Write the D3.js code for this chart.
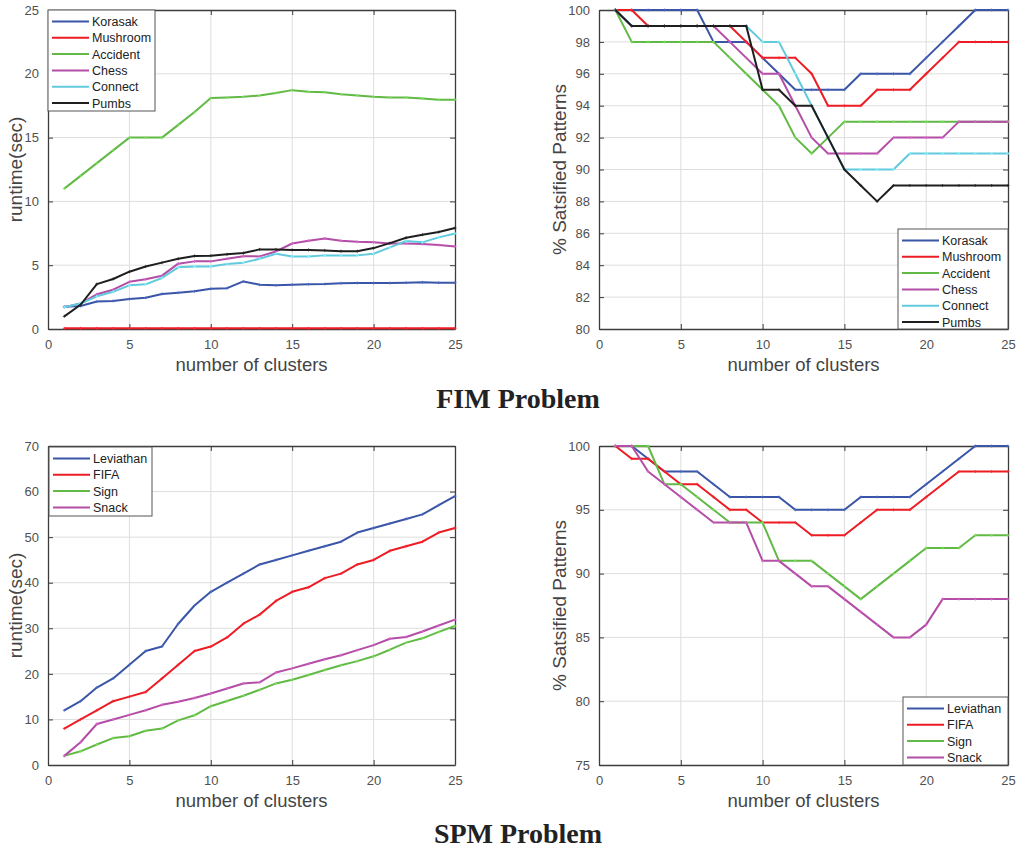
<!DOCTYPE html>
<html>
<head>
<meta charset="utf-8">
<script src="https://cdn.jsdelivr.net/npm/d3@7"></script>
<style>
  body { margin: 0; background: #fff; }
  svg { display: block; }
  .tick text { fill: #505050; font-family: "Liberation Sans", Arial, sans-serif; font-size: 13px; }
</style>
</head>
<body>
<div id="chart"></div>
<script>
// number of clusters (shared x values)
var clusters = d3.range(1, 26);

// FIM runtime (sec)
var fimRuntime = {
  "Korasak":  [1.75,1.8,2.15,2.2,2.35,2.45,2.75,2.85,2.95,3.15,3.2,3.73,3.47,3.42,3.47,3.5,3.52,3.58,3.6,3.6,3.6,3.63,3.66,3.63,3.63],
  "Mushroom": [0.05,0.05,0.05,0.05,0.05,0.05,0.05,0.05,0.05,0.05,0.05,0.05,0.05,0.05,0.05,0.05,0.05,0.05,0.05,0.05,0.05,0.05,0.05,0.05,0.05],
  "Accident": [11,12,13,14,15,15,15,16,17,18.1,18.15,18.2,18.3,18.5,18.72,18.6,18.55,18.4,18.3,18.2,18.15,18.15,18.07,17.97,17.97],
  "Chess":    [1.7,2.0,2.72,3.08,3.7,3.9,4.18,5.12,5.3,5.3,5.5,5.7,5.69,6.08,6.7,6.92,7.1,6.92,6.84,6.79,6.7,6.7,6.66,6.58,6.47],
  "Connect":  [1.7,2.0,2.56,2.92,3.42,3.5,4.0,4.83,4.9,4.9,5.1,5.2,5.5,5.9,5.69,5.69,5.77,5.77,5.77,5.9,6.4,6.9,6.79,7.18,7.49],
  "Pumbs":    [0.99,1.9,3.52,3.92,4.49,4.9,5.2,5.5,5.72,5.75,5.85,5.95,6.24,6.24,6.2,6.2,6.16,6.1,6.1,6.34,6.73,7.15,7.39,7.6,7.91]
};

// FIM % satisfied patterns
var fimSatisfied = {
  "Korasak":  [100,100,100,100,100,100,98,98,98,97,96,95,95,95,95,96,96,96,96,97,98,99,100,100,100],
  "Mushroom": [100,100,99,99,99,99,99,99,98,97,97,97,96,94,94,94,95,95,95,96,97,98,98,98,98],
  "Accident": [100,98,98,98,98,98,98,97,96,95,94,92,91,92,93,93,93,93,93,93,93,93,93,93,93],
  "Chess":    [100,99,99,99,99,99,99,98,97,96,96,94,92,91,91,91,91,92,92,92,92,93,93,93,93],
  "Connect":  [100,99,99,99,99,99,99,99,99,98,98,96,94,92,90,90,90,90,91,91,91,91,91,91,91],
  "Pumbs":    [100,99,99,99,99,99,99,99,99,95,95,94,94,92,90,89,88,89,89,89,89,89,89,89,89]
};

// SPM runtime (sec)
var spmRuntime = {
  "Leviathan": [12,14,17,19,22,25,26,31,35,38,40,42,44,45,46,47,48,49,51,52,53,54,55,57,59],
  "FIFA":      [8,10,12,14,15,16,19,22,25,26,28,31,33,36,38,39,41,42,44,45,47,48,49,51,52],
  "Sign":      [2,3,4.5,5.9,6.3,7.5,8,9.8,10.9,12.9,14.05,15.2,16.5,17.9,18.7,19.75,20.85,21.9,22.8,23.85,25.3,26.85,27.8,29.2,30.5],
  "Snack":     [2,5,9,10,11,12,13.2,13.9,14.7,15.7,16.8,17.9,18.15,20.3,21.2,22.2,23.2,24.1,25.2,26.3,27.7,28.1,29.3,30.6,31.9]
};

// SPM % satisfied patterns
var spmSatisfied = {
  "Leviathan": [100,100,99,98,98,98,97,96,96,96,96,95,95,95,95,96,96,96,96,97,98,99,100,100,100],
  "FIFA":      [100,99,99,98,97,97,96,95,95,94,94,94,93,93,93,94,95,95,95,96,97,98,98,98,98],
  "Sign":      [100,100,100,97,97,96,95,94,94,94,91,91,91,90,89,88,89,90,91,92,92,92,93,93,93],
  "Snack":     [100,100,98,97,96,95,94,94,94,91,91,90,89,89,88,87,86,85,85,86,88,88,88,88,88]
};

var fimNames = ["Korasak", "Mushroom", "Accident", "Chess", "Connect", "Pumbs"];
var spmNames = ["Leviathan", "FIFA", "Sign", "Snack"];

var xTicks = [0, 5, 10, 15, 20, 25];
var runtimeTicksFim = [0, 5, 10, 15, 20, 25];
var satTicksFim = [80, 82, 84, 86, 88, 90, 92, 94, 96, 98, 100];
var runtimeTicksSpm = [0, 10, 20, 30, 40, 50, 60, 70];
var satTicksSpm = [75, 80, 85, 90, 95, 100];

var colors = {
  "Korasak": "#3a55a5", "Mushroom": "#ec1c24", "Accident": "#62b946",
  "Chess": "#b34ea6", "Connect": "#63c9dd", "Pumbs": "#1e1e1e",
  "Leviathan": "#3a55a5", "FIFA": "#ec1c24", "Sign": "#62b946", "Snack": "#b34ea6"
};

var W = 1021, H = 850;
var svg = d3.select("#chart").append("svg")
    .attr("width", W)
    .attr("height", H);

var sansFont = "'Liberation Sans', Arial, Helvetica, sans-serif";

function drawPanel(p) {
    var g = svg.append("g").attr("transform", "translate(" + p.left + "," + p.top + ")");
    var w = p.width, h = p.height;

    var x = d3.scaleLinear().domain([0, 25]).range([0, w]);
    var y = d3.scaleLinear().domain(p.yDomain).range([h, 0]);

    // grid
    g.append("g").selectAll("line.vg")
        .data(xTicks.slice(1, -1))
        .enter().append("line")
        .attr("x1", d => x(d)).attr("x2", d => x(d))
        .attr("y1", 0).attr("y2", h)
        .attr("stroke", "#dedede").attr("stroke-width", 1);
    g.append("g").selectAll("line.hg")
        .data(p.yTicks.slice(1, -1))
        .enter().append("line")
        .attr("x1", 0).attr("x2", w)
        .attr("y1", d => y(d)).attr("y2", d => y(d))
        .attr("stroke", "#dedede").attr("stroke-width", 1);

    // axes (ticks inward like matlab)
    var xAxis = g.append("g").attr("transform", "translate(0," + h + ")")
        .call(d3.axisBottom(x).tickValues(xTicks).tickSizeInner(-5).tickSizeOuter(0).tickPadding(11));
    var xTop = g.append("g")
        .call(d3.axisTop(x).tickValues(xTicks).tickSizeInner(-5).tickSizeOuter(0).tickFormat(""));
    var yAxis = g.append("g")
        .call(d3.axisLeft(y).tickValues(p.yTicks).tickSizeInner(-5).tickSizeOuter(0).tickPadding(9));
    var yRight = g.append("g").attr("transform", "translate(" + w + ",0)")
        .call(d3.axisRight(y).tickValues(p.yTicks).tickSizeInner(-5).tickSizeOuter(0).tickFormat(""));
    [xAxis, xTop, yAxis, yRight].forEach(function(a) {
        a.select(".domain").attr("stroke", "#3c3c3c").attr("stroke-width", 1.3);
        a.selectAll(".tick line").attr("stroke", "#3c3c3c");
    });

    // lines
    var line = d3.line()
        .x((d, i) => x(clusters[i]))
        .y(d => y(d));

    p.names.forEach(function(name) {
        var vals = p.data[name];
        g.append("path")
            .datum(vals)
            .attr("fill", "none")
            .attr("stroke", colors[name])
            .attr("stroke-width", 2)
            .attr("stroke-linejoin", "round")
            .attr("d", line);
        // tiny point markers
        g.append("g").selectAll("path")
            .data(vals)
            .enter().append("path")
            .attr("d", (d, i) => {
                var cx = x(clusters[i]), cy = y(d);
                return "M" + (cx - 1.5) + "," + cy + "H" + (cx + 1.5) + "M" + cx + "," + (cy - 1.5) + "V" + (cy + 1.5);
            })
            .attr("stroke", d3.color(colors[name]).brighter(0.6))
            .attr("stroke-width", 0.8);
    });

    // axis labels
    svg.append("text")
        .attr("x", p.left + w / 2)
        .attr("y", p.top + h + 42)
        .attr("text-anchor", "middle")
        .attr("font-family", sansFont)
        .attr("font-size", 18.5)
        .attr("fill", "#444")
        .text("number of clusters");
    svg.append("text")
        .attr("transform", "translate(" + p.yLabelX + "," + (p.top + h / 2) + ") rotate(-90)")
        .attr("text-anchor", "middle")
        .attr("font-family", sansFont)
        .attr("font-size", 19)
        .attr("fill", "#444")
        .text(p.yLabel);

    // legend
    var lg = svg.append("g").attr("transform", "translate(" + p.legend.x + "," + p.legend.y + ")");
    lg.append("rect")
        .attr("width", p.legend.w)
        .attr("height", p.legend.h)
        .attr("fill", "#fff")
        .attr("stroke", "#555")
        .attr("stroke-width", 1);
    p.names.forEach(function(name, i) {
        var ly = 11.5 + i * 16.3;
        lg.append("line")
            .attr("x1", 4).attr("x2", 41)
            .attr("y1", ly).attr("y2", ly)
            .attr("stroke", colors[name])
            .attr("stroke-width", 2);
        lg.append("text")
            .attr("x", 44)
            .attr("y", ly + 4.5)
            .attr("font-family", sansFont)
            .attr("font-size", 12.5)
            .attr("fill", "#222")
            .text(name);
    });
}

drawPanel({
    left: 48, top: 10, width: 407, height: 319,
    yDomain: [0, 25], yTicks: runtimeTicksFim,
    data: fimRuntime, names: fimNames,
    yLabel: "runtime(sec)", yLabelX: 22,
    legend: { x: 48, y: 10, w: 107, h: 101 }
});
drawPanel({
    left: 599, top: 10, width: 409, height: 319,
    yDomain: [80, 100], yTicks: satTicksFim,
    data: fimSatisfied, names: fimNames,
    yLabel: "% Satsified Patterns", yLabelX: 566,
    legend: { x: 898, y: 229, w: 110, h: 100 }
});
drawPanel({
    left: 48, top: 446, width: 407, height: 319,
    yDomain: [0, 70], yTicks: runtimeTicksSpm,
    data: spmRuntime, names: spmNames,
    yLabel: "runtime(sec)", yLabelX: 22,
    legend: { x: 49, y: 447, w: 103, h: 69 }
});
drawPanel({
    left: 599, top: 446, width: 409, height: 319,
    yDomain: [75, 100], yTicks: satTicksSpm,
    data: spmSatisfied, names: spmNames,
    yLabel: "% Satsified Patterns", yLabelX: 566,
    legend: { x: 903, y: 697, w: 105, h: 68 }
});

// section titles
svg.append("text")
    .attr("x", 518).attr("y", 408)
    .attr("text-anchor", "middle")
    .attr("font-family", "'Liberation Serif', 'DejaVu Serif', serif")
    .attr("font-weight", "bold")
    .attr("font-size", 28)
    .attr("fill", "#222")
    .text("FIM Problem");
svg.append("text")
    .attr("x", 518).attr("y", 843)
    .attr("text-anchor", "middle")
    .attr("font-family", "'Liberation Serif', 'DejaVu Serif', serif")
    .attr("font-weight", "bold")
    .attr("font-size", 28)
    .attr("fill", "#222")
    .text("SPM Problem");
</script>
</body>
</html>
